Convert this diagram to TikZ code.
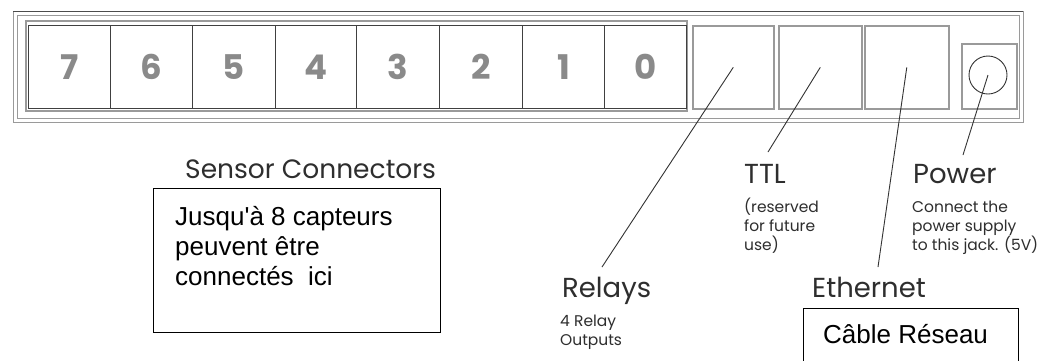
\documentclass[tikz,border=0pt]{standalone}
\usepackage{fontspec}
\newfontfamily\futura{Poppins}
\newfontfamily\arialf{Liberation Sans}
\definecolor{lbltext}{HTML}{2E2E2E}
\definecolor{digitgray}{HTML}{8A8A8A}
\definecolor{framegray}{HTML}{9A9A9A}
\definecolor{wiregray}{HTML}{333333}
\tikzset{
  bigfont/.style={font=\futura\fontsize{27.5}{32}\selectfont, text=lbltext, inner sep=0pt, anchor=base west},
  smallfont/.style={font=\futura\fontsize{15.5}{19}\selectfont, text=lbltext, inner sep=0pt, anchor=base west, align=left},
  digit/.style={font=\futura\bfseries\fontsize{34}{36}\selectfont, text=digitgray, inner sep=0pt},
  cell/.style={draw=black!75, line width=0.8pt, anchor=north west, inner sep=0pt},
  portbox/.style={draw=framegray, line width=1.6pt, anchor=north west, inner sep=0pt},
  wire/.style={draw=wiregray, line width=0.9pt},
  notebox/.style={draw=black, line width=1.3pt, fill=white, anchor=north west, inner sep=0pt},
  notetext/.style={font=\arialf\fontsize{26}{30}\selectfont, text=black, inner sep=0pt, anchor=base west, align=left}
}
\begin{document}
\begin{tikzpicture}[x=1pt,y=-1pt]
\useasboundingbox[fill=white] (0,0) rectangle (1050,360);
% outer frame
\draw[framegray, line width=1pt] (13,11) rectangle (1023,122);
\draw[framegray, line width=0.8pt] (17,15) rectangle (1019,118);
\draw[black!70, line width=0.8pt] (13,11) -- (1023,11);
% sensor group
\draw[framegray, line width=1.8pt] (26,21) rectangle (687,111);
% cells
\foreach \i/\xa/\xb/\d in {0/28/110/7,1/110/192/6,2/192/275/5,3/275/356/4,4/356/439/3,5/439/522/2,6/522/604/1,7/604/686/0}{
  \node[cell, minimum width={\xb-\xa}, minimum height=83pt] (cell\d) at (\xa,25) {};
  \node[digit] (dig\d) at (cell\d.center) {\d};
}
% right ports
\node[portbox, minimum width=81pt, minimum height=83pt] (relaybox) at (692,25) {};
\node[portbox, minimum width=83pt, minimum height=83pt] (ttlbox) at (778,25) {};
\node[portbox, minimum width=84pt, minimum height=83pt] (ethbox) at (864,25) {};
\node[portbox, minimum width=55pt, minimum height=65pt] (powerbox) at (961,43) {};
\node[draw=black!80, line width=0.9pt, circle, minimum size=38pt, inner sep=0pt] (jack) at (988,75) {};
% labels
\node[bigfont, font=\futura\fontsize{26.5}{30}\selectfont] (sensorlbl) at (185,178) {Sensor Connectors};
\node[bigfont] (ttllbl) at (744,183) {TTL};
\node[smallfont] (ttlnote) at (744,250) {(reserved\\for future\\use)};
\node[bigfont] (powerlbl) at (913,183) {Power};
\node[smallfont] (powernote) at (912,250) {Connect the\\power supply\\to this jack. (5V)};
\node[bigfont] (relaylbl) at (562,297) {Relays};
\node[smallfont] (relaynote) at (560,345) {4 Relay\\Outputs};
\node[bigfont] (ethlbl) at (812,297) {Ethernet};
% connectors
\coordinate (relayend) at (602,267);
\coordinate (ttlend) at (768,152);
\coordinate (ethend) at (878,267);
\coordinate (powerend) at (963,155);
\draw[wire] (relaybox.center) -- (relayend);
\draw[wire] (ttlbox.center) -- (ttlend);
\draw[wire] (ethbox.center) -- (ethend);
\draw[wire] (jack.center) -- (powerend);
% note boxes
\node[notebox, minimum width=287pt, minimum height=144pt] (capbox) at (153,188) {};
\node[notetext] (captext) at (175,285) {Jusqu'à 8 capteurs\\peuvent être\\connectés\ \ ici};
\node[notebox, minimum width=215pt, minimum height=56pt] (cablebox) at (803,308) {};
\node[notetext] (cabletext) at (823,343) {Câble Réseau};
\end{tikzpicture}
\end{document}
